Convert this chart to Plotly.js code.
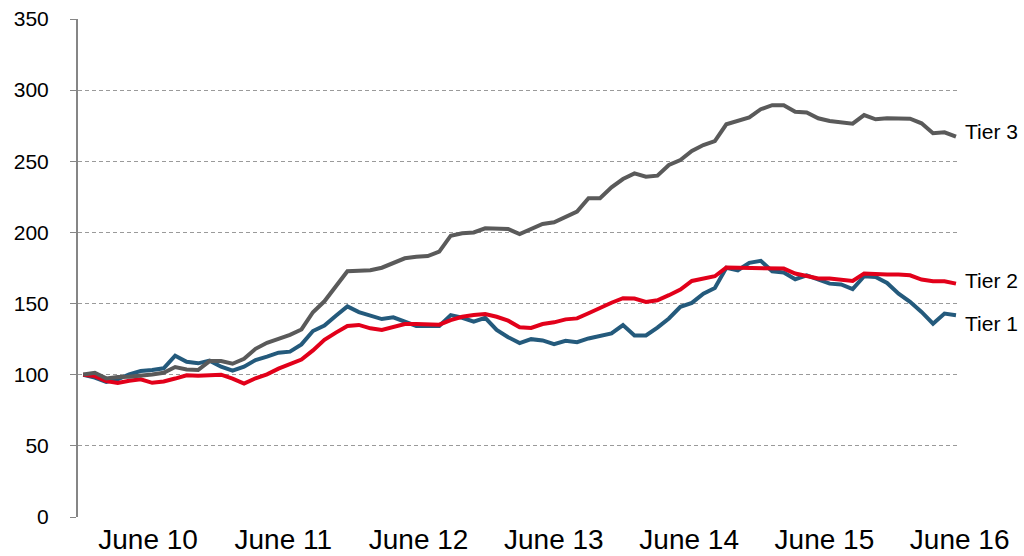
<!DOCTYPE html>
<html>
<head>
<meta charset="utf-8">
<script src="https://cdn.plot.ly/plotly-3.0.1.min.js"></script>
<style>
  html, body { margin: 0; padding: 0; background: #ffffff; }
  #chart { width: 1024px; height: 556px; }
</style>
</head>
<body>
<div id="chart"></div>
<script>
// ---- Data (index values, monthly observations) ----
const seriesNames = ["Tier 1", "Tier 2", "Tier 3"];

const tier1 = [100, 98, 95, 96.8, 100.3, 102.6, 103.3, 104.5, 113.4, 109.1,
  108, 109.9, 105.6, 102.8, 105.6, 110.3, 112.7, 115.5, 116.2, 121.3,
  130.7, 134.5, 141.5, 148, 144, 141.4, 139.1, 140.3, 137.3, 134.3,
  134.3, 134.3, 141.9, 140, 137.3, 140, 131.5, 126.4, 122.2, 125,
  124.1, 121.5, 123.8, 122.9, 125.5, 127.2, 129, 134.9, 127.6, 127.6,
  133.1, 139.5, 147.7, 150.5, 157, 161, 175.1, 173.4, 178.6, 180,
  172.7, 171.8, 167.1, 169.9, 166.9, 164, 163.4, 160.1, 169.2, 168.7,
  164.5, 157, 151.2, 144.1, 135.9, 143, 141.8];

const tier2 = [100, 99, 95.5, 94.2, 95.8, 96.8, 94.3, 95.2, 97.3, 99.6,
  99.3, 99.3, 100, 97.3, 93.8, 97.5, 100.3, 104.3, 107.8, 110.7,
  117.1, 124.5, 129.6, 134.3, 135, 132.6, 131.5, 133.3, 135.6, 135.6,
  135.6, 135.2, 138.4, 140.7, 141.9, 142.6, 140.7, 138, 133.3, 132.9,
  135.6, 136.8, 138.9, 139.6, 143.2, 147, 150.6, 153.8, 153.5, 151.2,
  152.3, 155.9, 159.8, 165.9, 167.6, 169.2, 175.3, 175.3, 175.3, 175.1,
  174.6, 174.6, 171.1, 169.2, 167.6, 167.6, 167.1, 165.9, 171.1, 170.6,
  170.4, 170.4, 169.9, 166.9, 165.7, 165.7, 164];

const tier3 = [100.2, 101.4, 97.4, 98.4, 98.6, 99.1, 100.2, 101.4, 105.4, 103.7,
  103.3, 109.6, 109.6, 107.7, 111.2, 118.2, 122.4, 125.2, 128, 131.8,
  143.9, 151.6, 162.1, 172.7, 173.1, 173.4, 175.2, 178.3, 181.8, 182.9,
  183.4, 186.5, 197.7, 199.4, 200, 202.9, 202.4, 202.4, 198.9, 202.4,
  205.9, 207.1, 210.6, 214.6, 224, 224, 231.7, 237.5, 241.5, 239.2,
  239.9, 247.4, 250.9, 257.2, 261.4, 264.2, 276, 278.3, 280.9, 286.6,
  289.4, 289.4, 284.8, 284.3, 280.2, 278.3, 277.4, 276.4, 282.5, 279.5,
  280.2, 279.7, 279.9, 276.7, 269.7, 270.4, 267.3];

const tickLabels = ["June 10", "June 11", "June 12", "June 13", "June 14", "June 15", "June 16"];

// ---- Chart build ----
const n = tier1.length;
const xIdx = Array.from({length: n}, (_, i) => i);
const tickPos = tickLabels.map((_, k) => 5.64 + 11.78 * k);

const colors = ["#245a7c", "#e2001a", "#5a5a5a"];
const allSeries = [tier1, tier2, tier3];
const labelShift = [-8, 3, 5];

const traces = allSeries.map((ys, s) => ({
  x: xIdx,
  y: ys,
  type: "scatter",
  mode: "lines",
  name: seriesNames[s],
  line: { color: colors[s], width: 4 },
  hoverinfo: "skip"
}));

const annotations = allSeries.map((ys, s) => ({
  x: n - 1,
  y: ys[n - 1],
  xref: "x",
  yref: "y",
  text: seriesNames[s],
  showarrow: false,
  xanchor: "left",
  yanchor: "middle",
  xshift: 7,
  yshift: labelShift[s],
  font: { family: "Liberation Sans, Arial, sans-serif", size: 21, color: "#000000" }
}));

const layout = {
  width: 1024,
  height: 556,
  margin: { l: 78, r: 64, t: 19, b: 39, pad: 0 },
  paper_bgcolor: "#ffffff",
  plot_bgcolor: "#ffffff",
  showlegend: false,
  font: { family: "Liberation Sans, Arial, sans-serif", color: "#000000" },
  xaxis: {
    range: [-0.46, 76.35],
    tickmode: "array",
    tickvals: tickPos,
    ticktext: tickLabels,
    showgrid: false,
    zeroline: false,
    showline: false,
    ticks: "",
    ticklabelstandoff: 3,
    tickfont: { size: 28, color: "#000000" },
    automargin: false,
    fixedrange: true
  },
  yaxis: {
    range: [0, 350],
    tickmode: "linear",
    tick0: 0,
    dtick: 50,
    showgrid: true,
    gridcolor: "#9a9a9a",
    gridwidth: 1,
    griddash: "4px,3px",
    zeroline: false,
    showline: true,
    linecolor: "#868686",
    linewidth: 2,
    ticks: "outside",
    ticklen: 6,
    tickwidth: 1,
    tickcolor: "#868686",
    ticklabelstandoff: 17,
    tickfont: { size: 21, color: "#000000" },
    automargin: false,
    fixedrange: true
  },
  annotations: annotations
};

Plotly.newPlot("chart", traces, layout, { displayModeBar: false, staticPlot: true });
</script>
</body>
</html>
